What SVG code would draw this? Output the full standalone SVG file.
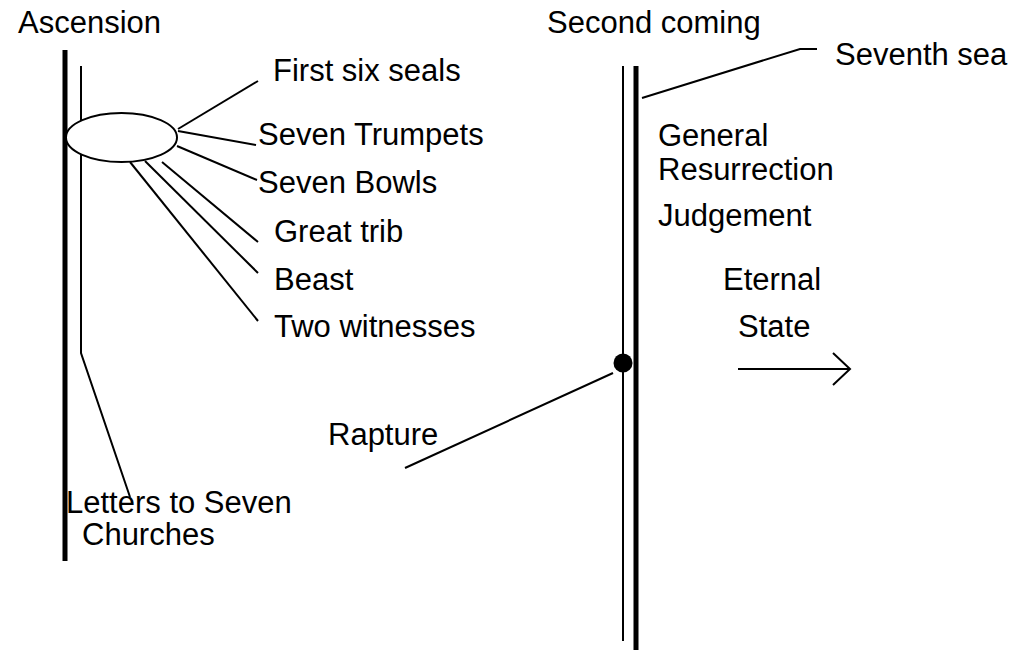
<svg xmlns="http://www.w3.org/2000/svg" width="1031" height="650" viewBox="0 0 1031 650">
<style>
text{font-family:"Liberation Sans",Arial,sans-serif;font-size:31px;fill:#000}
.thick{stroke:#000;stroke-width:5;fill:none}
.thin{stroke:#000;stroke-width:2;fill:none}
</style>
<defs>
<marker id="open" markerWidth="20" markerHeight="34" refX="18" refY="17" orient="auto" markerUnits="userSpaceOnUse">
<path d="M1,1 L18,17 L1,33" fill="none" stroke="#000" stroke-width="2"/>
</marker>
</defs>
<rect width="1031" height="650" fill="#fff"/>
<g id="timelines">
<line class="thick" x1="65" y1="50" x2="65" y2="561"/>
<polyline class="thin" points="81,66 81,353 130,497"/>
<line class="thin" x1="623" y1="66" x2="623" y2="641"/>
<line class="thick" x1="636" y1="66" x2="636" y2="650"/>
</g>
<g id="connectors">
<line class="thin" x1="178" y1="129" x2="258" y2="81"/>
<line class="thin" x1="178" y1="131" x2="256" y2="145"/>
<line class="thin" x1="177" y1="146" x2="257" y2="180"/>
<line class="thin" x1="162" y1="162" x2="258" y2="242"/>
<line class="thin" x1="145" y1="161" x2="258" y2="273"/>
<line class="thin" x1="130" y1="162" x2="258" y2="321"/>
<polyline class="thin" points="642,98 800,49 817,49"/>
<line class="thin" x1="405" y1="468" x2="613" y2="373"/>
<line class="thin" x1="738" y1="369" x2="850" y2="369" marker-end="url(#open)"/>
</g>
<g id="ascension"><text x="18" y="33">Ascension</text></g>
<g id="seals-cluster"><ellipse cx="121.5" cy="137.5" rx="55.5" ry="24.5" fill="#fff" stroke="#000" stroke-width="2"/></g>
<g id="first-six-seals"><text x="273" y="81">First six seals</text></g>
<g id="seven-trumpets"><text x="258" y="145">Seven Trumpets</text></g>
<g id="seven-bowls"><text x="258" y="193">Seven Bowls</text></g>
<g id="great-trib"><text x="274" y="242">Great trib</text></g>
<g id="beast"><text x="274" y="290">Beast</text></g>
<g id="two-witnesses"><text x="274" y="337">Two witnesses</text></g>
<g id="letters"><text x="66" y="513">Letters to Seven</text><text x="82" y="545">Churches</text></g>
<g id="second-coming"><text x="547" y="33">Second coming</text></g>
<g id="seventh-seal"><text x="835" y="65">Seventh sea</text></g>
<g id="general-resurrection"><text x="658" y="146">General</text><text x="658" y="180">Resurrection</text></g>
<g id="judgement"><text x="658" y="226">Judgement</text></g>
<g id="eternal-state"><text x="723" y="290">Eternal</text><text x="738" y="337">State</text></g>
<g id="rapture"><circle cx="623" cy="363" r="9.5" fill="#000"/><text x="328" y="445">Rapture</text></g>
</svg>
